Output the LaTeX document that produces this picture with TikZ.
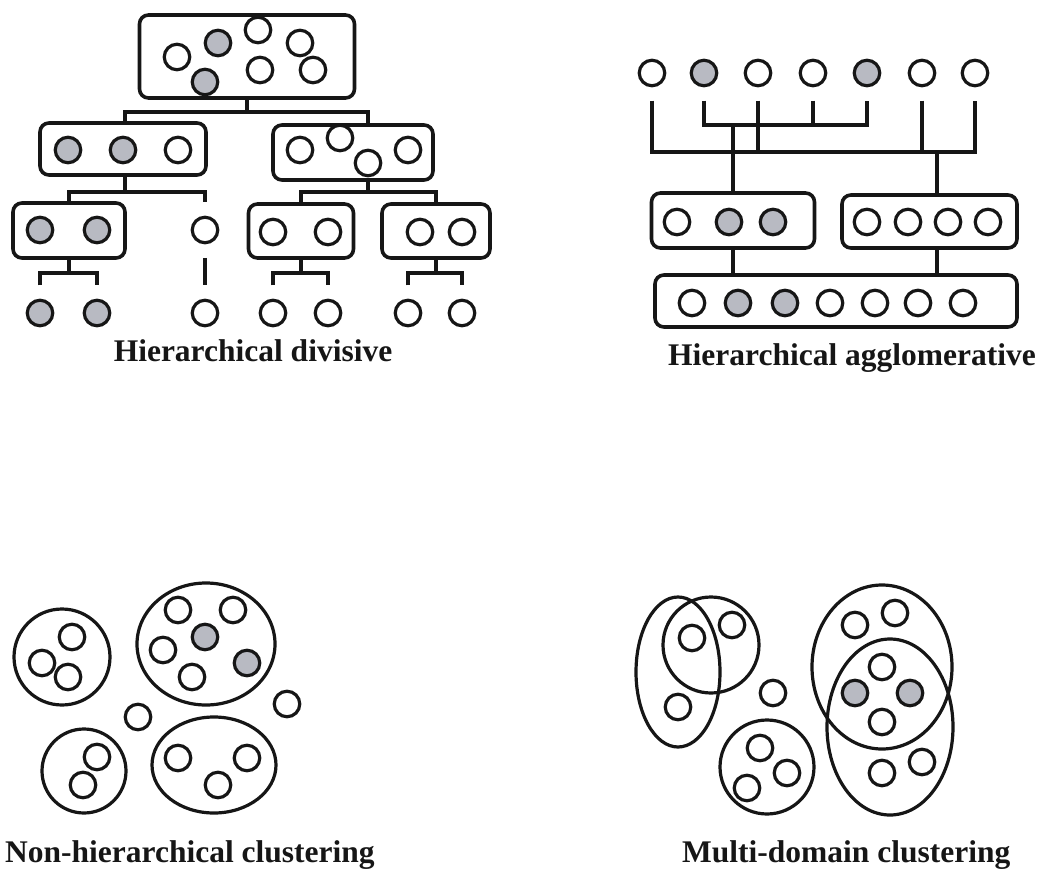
\documentclass[tikz,border=0pt]{standalone}
\usepackage{fontspec}
\setmainfont{Liberation Serif}
\definecolor{ink}{RGB}{22,22,22}
\definecolor{shade}{RGB}{184,186,194}
\begin{document}
\begin{tikzpicture}[x=1pt,y=-1pt,
  dot/.style={circle, draw=ink, line width=3.2pt, minimum size=25.5pt, inner sep=0pt, outer sep=0pt, fill=white},
  gdot/.style={dot, fill=shade},
  ring/.style={dot, fill=none},
  grp/.style={draw=ink, line width=3.6pt, rounded corners=9pt, inner sep=0pt, outer sep=0pt},
  link/.style={draw=ink, line width=3.4pt},
  hull/.style={draw=ink, line width=3.2pt},
  lbl/.style={font=\bfseries\fontsize{31.5}{36}\selectfont, text=ink, inner sep=0pt}]
\useasboundingbox (0,0) rectangle (1041,869);

% ---------- Hierarchical divisive ----------
\node[grp, minimum width=215pt, minimum height=83pt] (b0) at (247,56.5) {};
\node[grp, minimum width=166pt, minimum height=52pt] (b1) at (123,149) {};
\node[grp, minimum width=160pt, minimum height=55pt] (b2) at (353,152.5) {};
\node[grp, minimum width=112pt, minimum height=55pt] (b3) at (69,230.5) {};
\node[grp, minimum width=105pt, minimum height=54pt] (b4) at (301,231) {};
\node[grp, minimum width=108pt, minimum height=54pt] (b5) at (436,231) {};

\node[dot]  (p1) at (177,57) {};
\node[gdot] (p2) at (218,43) {};
\node[dot]  (p3) at (258,30) {};
\node[dot]  (p4) at (300,43) {};
\node[dot]  (p5) at (313,70) {};
\node[dot]  (p6) at (260,70) {};
\node[gdot] (p7) at (205,82) {};

\node[gdot] (q1) at (68,150) {};
\node[gdot] (q2) at (123,150) {};
\node[dot]  (q3) at (178,150) {};
\node[dot]  (q4) at (300,150) {};
\node[dot]  (q5) at (340,138) {};
\node[dot]  (q6) at (368,163) {};
\node[dot]  (q7) at (408,150) {};

\node[gdot] (r1) at (40,230) {};
\node[gdot] (r2) at (97,230) {};
\node[dot]  (c0) at (205,230) {};
\node[dot]  (r4) at (273,232) {};
\node[dot]  (r5) at (328,232) {};
\node[dot]  (r6) at (420,232) {};
\node[dot]  (r7) at (462,232) {};

\node[gdot] (l1) at (40,313) {};
\node[gdot] (l2) at (97,313) {};
\node[dot]  (l3) at (205,313) {};
\node[dot]  (l4) at (273,313) {};
\node[dot]  (l5) at (328,313) {};
\node[dot]  (l6) at (408,313) {};
\node[dot]  (l7) at (462,313) {};

\coordinate (j0) at (247,112);
\coordinate (j1) at (125,192);
\coordinate (j2) at (368,192);
\coordinate (k1) at (69,273);
\coordinate (k3) at (301,273);
\coordinate (k4) at (436,273);

\draw[link] (b0.south) -- (j0);
\draw[link] ([xshift=2pt]b1.north) |- (j0) -| ([xshift=15pt]b2.north);
\draw[link] ([xshift=2pt]b1.south) -- (j1);
\draw[link] (b3.north) |- (j1) -| ([yshift=15pt]c0.north);
\draw[link] ([xshift=15pt]b2.south) -- (j2);
\draw[link] (b4.north) |- (j2) -| (b5.north);
\draw[link] (b3.south) -- (k1);
\draw[link] ([yshift=15pt]l1.north) |- (k1) -| ([yshift=15pt]l2.north);
\draw[link] ([yshift=-15pt]c0.south) -- ([yshift=15pt]l3.north);
\draw[link] (b4.south) -- (k3);
\draw[link] ([yshift=15pt]l4.north) |- (k3) -| ([yshift=15pt]l5.north);
\draw[link] (b5.south) -- (k4);
\draw[link] ([yshift=15pt]l6.north) |- (k4) -| ([yshift=15pt]l7.north);

\node[lbl, anchor=base] (t1) at (253,361) {Hierarchical divisive};

% ---------- Hierarchical agglomerative ----------
\node[dot]  (a1) at (652,73) {};
\node[gdot] (a2) at (704,73) {};
\node[dot]  (a3) at (758,73) {};
\node[dot]  (a4) at (813,73) {};
\node[gdot] (a5) at (867,73) {};
\node[dot]  (a6) at (922,73) {};
\node[dot]  (a7) at (975,73) {};

\node[grp, minimum width=163pt, minimum height=55pt] (m1) at (733,220.5) {};
\node[grp, minimum width=175pt, minimum height=53pt] (m2) at (929.5,221.5) {};
\node[grp, minimum width=362pt, minimum height=52pt] (bb) at (836,301) {};

\node[dot]  (n1) at (677,222) {};
\node[gdot] (n2) at (729,222) {};
\node[gdot] (n3) at (773,222) {};
\node[dot]  (n4) at (867,222) {};
\node[dot]  (n5) at (908,222) {};
\node[dot]  (n6) at (948,222) {};
\node[dot]  (n7) at (988,222) {};

\node[dot]  (o1) at (692,303) {};
\node[gdot] (o2) at (738,303) {};
\node[gdot] (o3) at (785,303) {};
\node[dot]  (o4) at (830,303) {};
\node[dot]  (o5) at (875,303) {};
\node[dot]  (o6) at (918,303) {};
\node[dot]  (o7) at (963,303) {};

\coordinate (h1) at (733,125);
\coordinate (h2) at (937,152);

\draw[link] ([yshift=-15pt]a2.south) |- (h1) -| ([yshift=-15pt]a5.south);
\draw[link] ([yshift=-15pt]a4.south) -- (a4.south |- h1);
\draw[link] ([yshift=-15pt]a1.south) |- (h2) -| ([yshift=-15pt]a7.south);
\draw[link] ([yshift=-15pt]a3.south) -- (a3.south |- h2);
\draw[link] ([yshift=-15pt]a6.south) -- (a6.south |- h2);
\draw[link] (h1) -- (m1.north);
\draw[link] (h2) -- (h2 |- m2.north);
\draw[link] (m1.south) -- (m1.south |- bb.north);
\draw[link] (h2 |- m2.south) -- (h2 |- bb.north);

\node[lbl, anchor=base] (t2) at (852,365) {Hierarchical agglomerative};

% ---------- Non-hierarchical clustering ----------
\draw[hull] (62,657) circle [radius=48pt];
\draw[hull] (206,644) circle [x radius=69pt, y radius=61pt];
\draw[hull] (84,771) circle [radius=42pt];
\draw[hull] (214,765) circle [x radius=62pt, y radius=48pt];

\node[ring] (u1) at (72,637) {};
\node[ring] (u2) at (42,663) {};
\node[ring] (u3) at (68,677) {};
\node[ring] (u4) at (178,610) {};
\node[ring] (u5) at (233,610) {};
\node[gdot] (u6) at (205,637) {};
\node[ring] (u7) at (163,650) {};
\node[gdot] (u8) at (247,663) {};
\node[ring] (u9) at (192,677) {};
\node[ring] (u10) at (138,717) {};
\node[ring] (u11) at (287,704) {};
\node[ring] (u12) at (97,757) {};
\node[ring] (u13) at (83,785) {};
\node[ring] (u14) at (178,758) {};
\node[ring] (u15) at (247,758) {};
\node[ring] (u16) at (218,785) {};

\node[lbl, anchor=base west] (t3) at (5,862) {Non-hierarchical clustering};

% ---------- Multi-domain clustering ----------
\draw[hull] (678,672) circle [x radius=42pt, y radius=75pt];
\draw[hull] (711,645) circle [radius=48pt];
\draw[hull] (767,767) circle [radius=47pt];
\draw[hull] (882,667) circle [x radius=70pt, y radius=82pt];
\draw[hull] (890,727) circle [x radius=63pt, y radius=88pt];

\node[ring] (v1) at (692,638) {};
\node[ring] (v2) at (732,625) {};
\node[ring] (v3) at (678,707) {};
\node[ring] (v4) at (773,693) {};
\node[ring] (v5) at (760,748) {};
\node[ring] (v6) at (787,773) {};
\node[ring] (v7) at (747,788) {};
\node[ring] (v8) at (855,625) {};
\node[ring] (v9) at (895,613) {};
\node[ring] (v10) at (882,667) {};
\node[gdot] (v11) at (855,693) {};
\node[gdot] (v12) at (910,693) {};
\node[ring] (v13) at (882,722) {};
\node[ring] (v14) at (882,773) {};
\node[ring] (v15) at (922,762) {};

\node[lbl, anchor=base west] (t4) at (682,862) {Multi-domain clustering};
\end{tikzpicture}
\end{document}
